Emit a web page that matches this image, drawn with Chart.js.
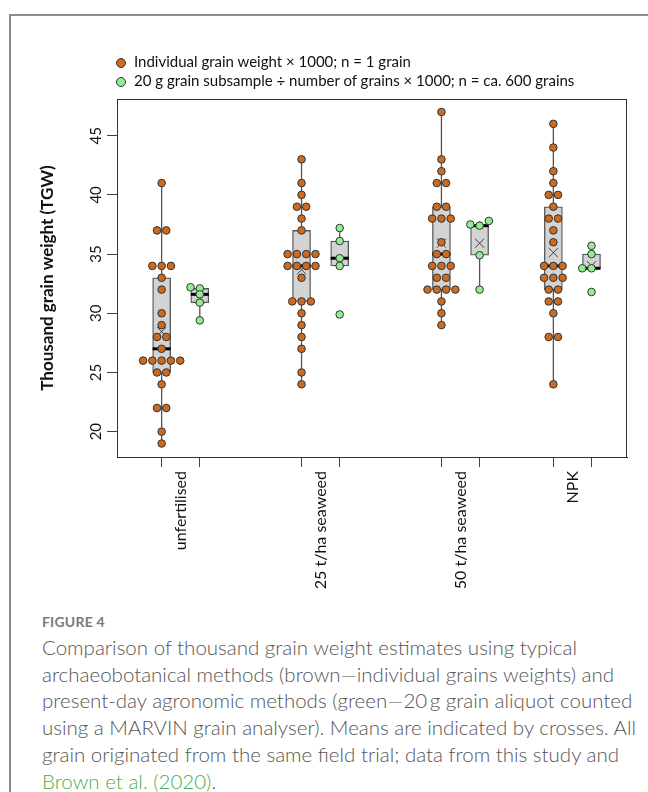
<!DOCTYPE html>
<html>
<head>
<meta charset="utf-8">
<script src="https://cdn.jsdelivr.net/npm/chart.js@4.4.1/dist/chart.umd.min.js"></script>
<style>
  body { margin: 0; width: 648px; height: 792px; position: relative; overflow: hidden; background: #fff; font-family: Lato, sans-serif; }
  #frame { position: absolute; left: 9px; top: 14px; right: -10px; bottom: -10px; border-left: 2px solid #8c8c8c; border-top: 2px solid #8c8c8c; }
  #wrap { position: absolute; left: 0; top: 0; width: 648px; height: 600px; }
  .leg { position: absolute; left: 116px; height: 20px; line-height: 20px; font-size: 15px; color: #111; white-space: nowrap; }
  .leg .dot { display: inline-block; width: 8px; height: 8px; border-radius: 50%; border: 1px solid #333; margin-right: 8px; vertical-align: -1px; }
  #fig { position: absolute; left: 42px; top: 613px; font-size: 14px; font-weight: bold; color: #7a7a7a; letter-spacing: 0.2px; }
  #caption { position: absolute; left: 42px; top: 634px; font-size: 20.5px; font-weight: 300; line-height: 26.7px; color: #555; white-space: nowrap; }
  #caption .link { color: #4cae4c; }
</style>
</head>
<body>
<div id="frame"></div>
<div id="wrap"><canvas id="tgw-chart"></canvas></div>
<div class="leg" style="top:51px"><span class="dot" style="background:#cc6a1f"></span>Individual grain weight × 1000; n = 1 grain</div>
<div class="leg" style="top:70px"><span class="dot" style="background:#90ee90"></span>20 g grain subsample ÷ number of grains × 1000; n = ca. 600 grains</div>
<div id="fig">FIGURE 4</div>
<div id="caption">Comparison of thousand grain weight estimates using typical<br>archaeobotanical methods (brown—individual grains weights) and<br>present-day agronomic methods (green—20&#8201;g grain aliquot counted<br>using a MARVIN grain analyser). Means are indicated by crosses. All<br>grain originated from the same field trial; data from this study and<br><span class="link">Brown et al. (2020)</span>.</div>
<script>
//
// Data
//
const groups = ['unfertilised', '25 t/ha seaweed', '50 t/ha seaweed', 'NPK'];
const groupPos = [1, 2.1, 3.2, 4.08];   // brown box centres on the x scale
const greenShift = 0.3;                 // green box sits this far right of the brown one
const yTicks = [20, 25, 30, 35, 40, 45];

// individual grain weights x 1000 (brown)
const brownUnfert = [41, 37, 37, 34, 34, 34, 33, 32, 30, 29, 28, 28, 27, 26, 26, 26, 26, 26, 25, 25, 24, 22, 22, 20, 19];
const brown25 = [43, 41, 40, 39, 39, 38, 37, 35, 35, 35, 35, 34, 34, 34, 34, 33, 31, 31, 31, 30, 29, 28, 27, 25, 24];
const brown50 = [47, 43, 42, 41, 41, 39, 39, 38, 38, 38, 36, 35, 35, 34, 34, 34, 33, 33, 32, 32, 32, 32, 31, 30, 29];
const brownNPK = [46, 44, 42, 41, 40, 40, 39, 38, 38, 37, 36, 34, 34, 34, 33, 33, 33, 32, 32, 31, 31, 30, 28, 28, 24];

// 20 g subsample estimates (green)
const greenUnfert = [32.2, 32.1, 31.6, 30.9, 29.4];
const green25 = [37.2, 36.1, 34.65, 34.0, 29.9];
const green50 = [37.8, 37.5, 37.4, 34.9, 32.0];
const greenNPK = [35.7, 35.0, 33.8, 33.8, 31.8];

const brownSets = [brownUnfert, brown25, brown50, brownNPK];
const greenSets = [greenUnfert, green25, green50, greenNPK];

//
// Box stats (R style hinges, 1.5 IQR whiskers)
//
function fivenum(vals) {
    const x = [...vals].sort((a, b) => a - b);
    const n = x.length;
    const n4 = Math.floor((n + 3) / 2) / 2;
    const d = [1, n4, (n + 1) / 2, n + 1 - n4, n];
    return d.map(p => 0.5 * (x[Math.floor(p) - 1] + x[Math.ceil(p) - 1]));
}

function boxStats(vals) {
    const f = fivenum(vals);
    const iqr = f[3] - f[1];
    const inside = vals.filter(v => v >= f[1] - 1.5 * iqr && v <= f[3] + 1.5 * iqr);
    return {
        q1: f[1], med: f[2], q3: f[3],
        lo: Math.min(...inside), hi: Math.max(...inside),
        mean: vals.reduce((s, v) => s + v, 0) / vals.length
    };
}

//
// Beeswarm offsets
//
const DOT_STEP = 0.073;   // x units between neighbouring dots
const SWARM_GAP = 0.47;   // y units closer than this are treated as touching

// equal values side by side, centred on the box
function centreSpread(vals) {
    const counts = {};
    vals.forEach(v => counts[v] = (counts[v] || 0) + 1);
    const seen = {};
    return vals.map(v => {
        seen[v] = (seen[v] || 0) + 1;
        return (seen[v] - 1 - (counts[v] - 1) / 2) * DOT_STEP;
    });
}

// each point goes to the first free slot: 0, left, right, ...
function swarm(vals) {
    const placed = [];
    const out = [];
    const order = vals.map((v, i) => i).sort((a, b) => vals[a] - vals[b]);
    order.forEach(i => {
        for (const k of [0, -1, 1, -2, 2, -3, 3]) {
            if (!placed.some(p => p.k === k && Math.abs(p.v - vals[i]) < SWARM_GAP)) {
                placed.push({ v: vals[i], k: k });
                out[i] = k * DOT_STEP;
                break;
            }
        }
    });
    return out;
}

const boxes = [], medians = [], means = [], whiskers = [], brownPts = [], greenPts = [];
const xTickVals = [], midLabels = [];

groups.forEach((name, i) => {
    const bx = groupPos[i];
    const gx = groupPos[i] + greenShift;
    xTickVals.push(bx, (bx + gx) / 2, gx);
    midLabels.push({ value: (bx + gx) / 2, label: name });

    [[brownSets[i], bx, centreSpread, brownPts], [greenSets[i], gx, swarm, greenPts]].forEach(([vals, x, spread, target]) => {
        const s = boxStats(vals);
        boxes.push({ x: x, y: [s.q1, s.q3] });
        medians.push({ x: x, y: s.med });
        means.push({ x: x, y: s.mean });
        whiskers.push({ x: x, y: s.lo }, { x: x, y: s.q1 }, { x: x, y: null },
                      { x: x, y: s.q3 }, { x: x, y: s.hi }, { x: x, y: null });
        const offs = spread(vals);
        vals.forEach((v, j) => target.push({ x: x + offs[j], y: v }));
    });
});

function midLabel(v) {
    const m = midLabels.find(l => Math.abs(l.value - v) < 1e-6);
    return m ? m.label : '';
}

//
// Chart
//
const plotFrame = {
    id: 'plotFrame',
    afterDraw(chart) {
        const { ctx, chartArea: a } = chart;
        ctx.save();
        ctx.strokeStyle = '#333';
        ctx.lineWidth = 1;
        ctx.strokeRect(a.left + 0.5, a.top + 0.5, a.right - a.left - 1, a.bottom - a.top);
        ctx.restore();
    }
};

const tgwChart = new Chart(document.getElementById('tgw-chart'), {
    type: 'scatter',
    data: {
        datasets: [
            {
                label: 'Individual grain weight',
                data: brownPts,
                backgroundColor: '#cc6a1f',
                borderColor: '#333',
                borderWidth: 1,
                pointRadius: 3.8,
                order: 0
            },
            {
                label: '20 g grain subsample',
                data: greenPts,
                backgroundColor: '#90ee90',
                borderColor: '#333',
                borderWidth: 1,
                pointRadius: 3.8,
                order: 0
            },
            {
                label: 'mean',
                data: means,
                pointStyle: 'crossRot',
                pointRadius: 6.5,
                borderColor: '#444',
                borderWidth: 1,
                order: 1
            },
            {
                label: 'median',
                data: medians,
                pointStyle: 'line',
                pointRadius: 9,
                borderColor: '#000',
                borderWidth: 3,
                order: 2
            },
            {
                type: 'bar',
                label: 'box',
                data: boxes,
                barThickness: 18,
                backgroundColor: '#d3d3d3',
                borderColor: '#555',
                borderWidth: 1.3,
                borderSkipped: false,
                order: 3
            },
            {
                type: 'line',
                label: 'whiskers',
                data: whiskers,
                showLine: true,
                spanGaps: false,
                pointRadius: 0,
                borderColor: '#555',
                borderWidth: 1.3,
                order: 4
            }
        ]
    },
    options: {
        responsive: true,
        maintainAspectRatio: false,
        animation: false,
        events: [],
        layout: {
            padding: { left: 0, top: 99, right: 21, bottom: 0 }
        },
        scales: {
            x: {
                type: 'linear',
                min: 0.649,
                max: 4.659,
                offset: false,
                afterBuildTicks: s => { s.ticks = xTickVals.map(v => ({ value: v })); },
                afterFit: s => { s.height = 143; },
                ticks: {
                    autoSkip: false,
                    minRotation: 90,
                    maxRotation: 90,
                    padding: 4,
                    color: '#111',
                    font: { family: 'Lato', size: 16 },
                    callback: v => midLabel(v)
                },
                grid: {
                    offset: false,
                    drawOnChartArea: false,
                    tickLength: 10,
                    tickWidth: 1,
                    tickColor: ctx => (ctx.tick && midLabel(ctx.tick.value)) ? 'rgba(0,0,0,0)' : '#444'
                },
                border: { color: '#333' }
            },
            y: {
                min: 17.86,
                max: 48.1,
                afterBuildTicks: s => { s.ticks = yTicks.map(v => ({ value: v })); },
                afterFit: s => { s.width = 117; },
                ticks: {
                    minRotation: 90,
                    maxRotation: 90,
                    crossAlign: 'center',
                    padding: 2,
                    color: '#111',
                    font: { family: 'Lato', size: 15 }
                },
                grid: {
                    drawOnChartArea: false,
                    tickLength: 10,
                    tickColor: '#444'
                },
                border: { color: '#333' },
                title: {
                    display: true,
                    text: 'Thousand grain weight (TGW)',
                    color: '#111',
                    font: { family: 'Lato', size: 17, weight: 'bold' },
                    padding: { top: 37, bottom: 0 }
                }
            }
        },
        plugins: {
            legend: { display: false },
            tooltip: { enabled: false }
        }
    },
    plugins: [plotFrame]
});
</script>
</body>
</html>
